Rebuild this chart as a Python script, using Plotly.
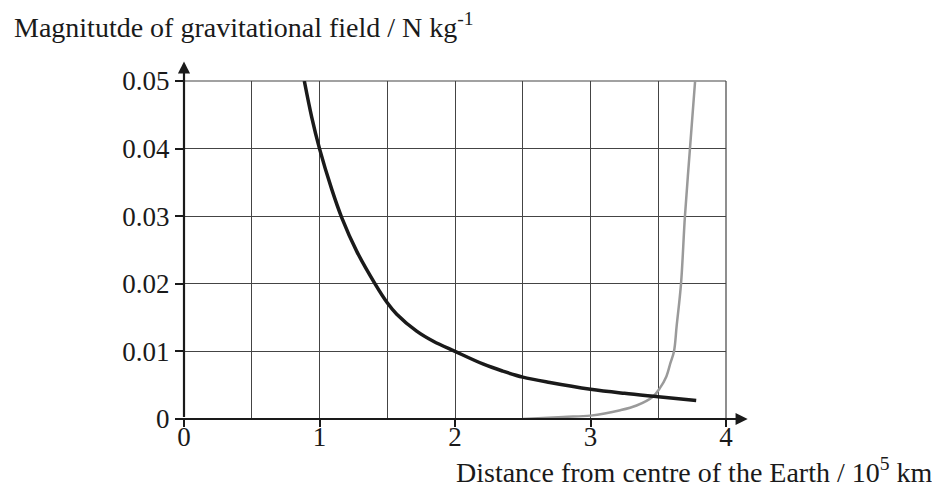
import plotly.graph_objects as go

# Earth's field (black curve)
earth_x = [0.888, 0.942, 1.0, 1.09, 1.164, 1.275, 1.41, 1.5, 1.57, 1.717, 1.84, 2.0, 2.21, 2.35, 2.5, 2.7, 3.0, 3.25, 3.5, 3.78]
earth_y = [0.05, 0.0447, 0.04, 0.0340, 0.0298, 0.0248, 0.0200, 0.0172, 0.0155, 0.0130, 0.0115, 0.0100, 0.0081, 0.0071, 0.0062, 0.0054, 0.0044, 0.0038, 0.0033, 0.00275]

# Moon's field (grey curve)
moon_x = [2.5, 2.8, 3.0, 3.22, 3.34, 3.46, 3.513, 3.56, 3.59, 3.616, 3.636, 3.668, 3.697, 3.734, 3.772]
moon_y = [0.0, 0.0003, 0.0005, 0.0013, 0.002, 0.0033, 0.0046, 0.0063, 0.0083, 0.0100, 0.0138, 0.0200, 0.0300, 0.0400, 0.0500]

x_ticks = [0, 1, 2, 3, 4]
x_minor = [0.5, 1.5, 2.5, 3.5]
y_ticks = [0, 0.01, 0.02, 0.03, 0.04, 0.05]
y_labels = ["0", "0.01", "0.02", "0.03", "0.04", "0.05"]

FONT = "Liberation Serif"
INK = "#1a1a1a"
GRID = "#444444"

fig = go.Figure()
fig.add_trace(go.Scatter(x=moon_x, y=moon_y, mode="lines",
                         line=dict(color="#9a9a9a", width=2.5, shape="spline", smoothing=1.0),
                         hoverinfo="skip", showlegend=False))
fig.add_trace(go.Scatter(x=earth_x, y=earth_y, mode="lines",
                         line=dict(color=INK, width=3.5, shape="spline", smoothing=1.0),
                         hoverinfo="skip", showlegend=False))

fig.update_layout(
    width=932, height=482,
    margin=dict(l=176, r=214, t=73, b=71),
    paper_bgcolor="white", plot_bgcolor="white",
    font=dict(family=FONT, size=27, color=INK),
    xaxis=dict(range=[0, 4], tickvals=x_ticks, ticktext=[str(v) for v in x_ticks],
               showgrid=True, gridcolor=GRID, gridwidth=1, zeroline=False, showline=False,
               ticks="outside", ticklen=7, tickwidth=1.5, tickcolor=INK,
               ticklabelstandoff=-13,
               minor=dict(tickvals=x_minor, showgrid=True, gridcolor=GRID, gridwidth=1, ticks=""),
               tickfont=dict(family=FONT, size=27, color=INK)),
    yaxis=dict(range=[0, 0.05], tickvals=y_ticks, ticktext=y_labels,
               showgrid=True, gridcolor=GRID, gridwidth=1, zeroline=False, showline=False,
               ticks="outside", ticklen=8, tickwidth=1.5, tickcolor=INK,
               tickfont=dict(family=FONT, size=27, color=INK)),
)

# border gridlines at top and right edges
fig.add_shape(type="line", xref="paper", yref="paper", x0=0, x1=1, y0=1, y1=1,
              line=dict(color=GRID, width=1.2), layer="below")
fig.add_shape(type="line", xref="paper", yref="paper", x0=1, x1=1, y0=0, y1=1,
              line=dict(color=GRID, width=1.2), layer="below")

# axes with arrowheads
fig.add_annotation(xref="paper", yref="paper", x=0, y=1.058, ax=0, ay=357,
                   axref="pixel", ayref="pixel", showarrow=True, arrowhead=2,
                   arrowsize=1.1, arrowwidth=2.2, arrowcolor=INK, text="")
fig.add_annotation(xref="paper", yref="paper", x=1.04, y=0, ax=-570, ay=0,
                   axref="pixel", ayref="pixel", showarrow=True, arrowhead=2,
                   arrowsize=1.1, arrowwidth=2.2, arrowcolor=INK, text="")

# axis titles
fig.add_annotation(xref="paper", yref="paper", x=(12 - 184) / 542, y=1 + 56 / 338,
                   xanchor="left", yanchor="middle", showarrow=False,
                   text="Magnitutde of gravitational field / N kg<sup>-1</sup>",
                   font=dict(family=FONT, size=28, color=INK))
fig.add_annotation(xref="paper", yref="paper", x=(935 - 184) / 542, y=-51 / 338,
                   xanchor="right", yanchor="middle", showarrow=False,
                   text="Distance from centre of the Earth / 10<sup>5</sup> km",
                   font=dict(family=FONT, size=28, color=INK))

fig.write_html("out.html")
